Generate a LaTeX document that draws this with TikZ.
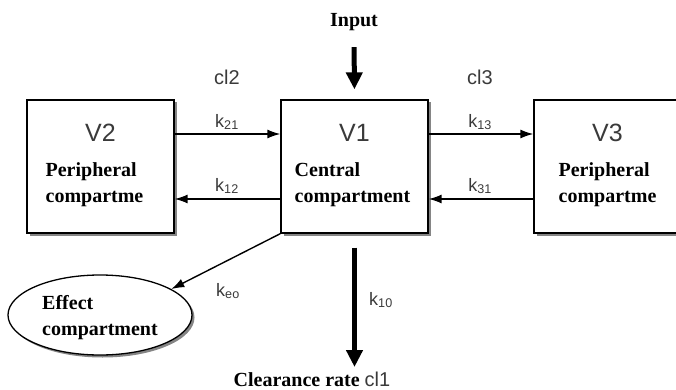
\documentclass[tikz,border=0pt]{standalone}
\usepackage{fontspec}
\setmainfont{Liberation Serif}
\setsansfont{Liberation Sans}
\usepackage{tikz}
\usetikzlibrary{shapes.geometric, arrows.meta, positioning, calc, shadows}
\definecolor{labelgray}{RGB}{58,58,58}

\begin{document}
\begin{tikzpicture}[x=1pt, y=-1pt,
  comp/.style={draw, line width=1.3pt, fill=white, minimum width=147pt, minimum height=133pt,
    drop shadow={shadow xshift=2.5pt, shadow yshift=-2.5pt, fill=black!60, opacity=.8}},
  vname/.style={font=\sffamily\fontsize{25}{28}\selectfont, text=labelgray},
  desc/.style={font=\bfseries\fontsize{20}{26}\selectfont, align=left, inner sep=0pt},
  rate/.style={font=\sffamily\fontsize{18}{20}\selectfont, text=labelgray, inner sep=1pt},
  flow/.style={-{Latex[length=13pt, width=9pt]}, line width=1.4pt},
  bigflow/.style={-{Triangle[length=17pt, width=16pt]}, line width=5pt}
]
  \useasboundingbox (0,0) rectangle (676,390);

  % compartments
  \node[comp] (v2) at (100.5,166.5) {};
  \node[comp] (v1) at (354.5,166.5) {};
  \node[comp] (v3) at (607.5,166.5) {};
  \node[vname] (v2name) at ([yshift=33.5pt]v2.center) {V2};
  \node[vname] (v1name) at ([yshift=33.5pt]v1.center) {V1};
  \node[vname] (v3name) at ([yshift=33.5pt]v3.center) {V3};
  \node[desc] (v2desc) at ([yshift=-18pt,xshift=-6pt]v2.center) {Peripheral\\compartme};
  \node[desc] (v1desc) at ([yshift=-18pt,xshift=-2pt]v1.center) {Central\\compartment};
  \node[desc] (v3desc) at ([yshift=-18pt]v3.center) {Peripheral\\compartme};

  \node[ellipse, draw, line width=1.3pt, fill=white, minimum width=184pt, minimum height=80pt,
    drop shadow={shadow xshift=2.5pt, shadow yshift=-2.5pt, fill=black!60, opacity=.8}]
    (eff) at (100,315) {};
  \node[desc] (effdesc) at (100,318) {Effect\\compartment};

  \node[font=\bfseries\fontsize{20}{22}\selectfont] (input) at (354,22) {Input};
  \node[font=\fontsize{20}{22}\selectfont, inner sep=1pt] (clear) at (312,379)
    {\textbf{Clearance rate} \sffamily\color{labelgray}cl1};

  % transfers
  \draw[flow] ([yshift=32.5pt]v2.east) -- ([yshift=32.5pt]v1.west);
  \draw[flow] ([yshift=-32.5pt]v1.west) -- ([yshift=-32.5pt]v2.east);
  \draw[flow] ([yshift=32.5pt]v1.east) -- ([yshift=32.5pt]v3.west);
  \draw[flow] ([yshift=-32.5pt]v3.west) -- ([yshift=-32.5pt]v1.east);
  \draw[flow] (v1.south west) -- (eff.20);
  \draw[bigflow, shorten <=13pt, shorten >=10pt] (input.south) -- (v1.north);
  \draw[bigflow, shorten <=14pt] (v1.south) -- (v1.south |- 0,367);

  \node[rate] (k21) at (227,122) {k\textsubscript{21}};
  \node[rate] (k12) at (227,186) {k\textsubscript{12}};
  \node[rate] (k13) at (480,122) {k\textsubscript{13}};
  \node[rate] (k31) at (480,186) {k\textsubscript{31}};
  \node[rate] (keo) at (228,291) {k\textsubscript{eo}};
  \node[rate] (k10) at (381,300) {k\textsubscript{10}};
  \node[rate, font=\sffamily\fontsize{20}{22}\selectfont] (cl2) at (227,77) {cl2};
  \node[rate, font=\sffamily\fontsize{20}{22}\selectfont] (cl3) at (480,77) {cl3};
\end{tikzpicture}
\end{document}
